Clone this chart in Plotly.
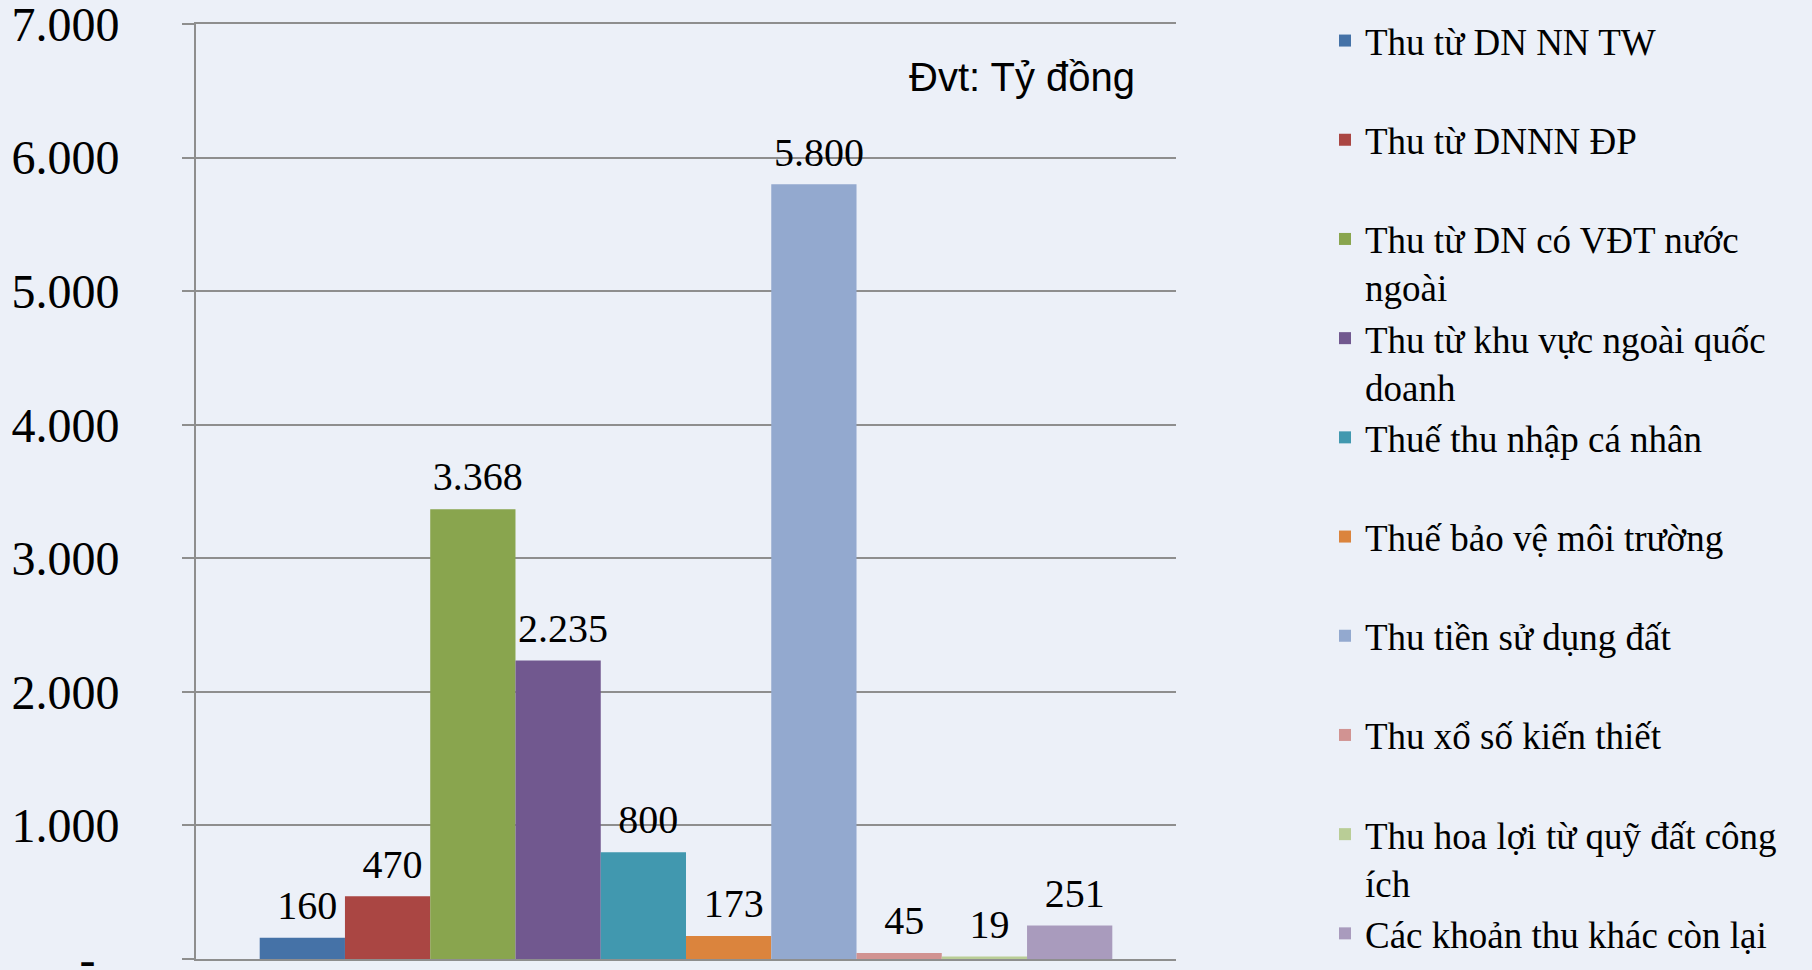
import plotly.graph_objects as go

category = ["Thu ngân sách"]
series_names = [
    "Thu từ DN NN TW",
    "Thu từ DNNN ĐP",
    "Thu từ DN có VĐT nước<br>ngoài",
    "Thu từ khu vực ngoài quốc<br>doanh",
    "Thuế thu nhập cá nhân",
    "Thuế bảo vệ môi trường",
    "Thu tiền sử dụng đất",
    "Thu xổ số kiến thiết",
    "Thu hoa lợi từ quỹ đất công<br>ích",
    "Các khoản thu khác còn lại",
]
series_values = [160, 470, 3368, 2235, 800, 173, 5800, 45, 19, 251]
series_colors = ["#4572A7", "#AA4643", "#89A54E", "#71588F", "#4198AF",
                 "#DB843D", "#93A9CF", "#D19392", "#B9CD96", "#A99BBD"]
tick_values = [0, 1000, 2000, 3000, 4000, 5000, 6000, 7000]
tick_labels = ["-\u00a0\u00a0", "1.000", "2.000", "3.000", "4.000", "5.000", "6.000", "7.000"]
unit_note = "Đvt: Tỷ đồng"

W, H = 1812, 970
ML, MR, MT, MB = 196, 636, 24, 11
BG = "#ECF0F8"
GRID = "#8E8E8E"
SERIF = "Liberation Serif, Times New Roman, serif"

fig = go.Figure()
n = len(series_names)
for i, (name, val, col) in enumerate(zip(series_names, series_values, series_colors)):
    # pad single-line legend entries to two lines so all entries are evenly spaced
    label = name if ("<br>" in name or i == n - 1) else name + "<br>\u00a0"
    fig.add_trace(go.Bar(
        x=category, y=[val], name=label,
        marker=dict(color=col, line=dict(width=0)),
        texttemplate="<span style='font-size:40px'>\u00a0%{y:,}</span><br>\u00a0",
        textposition="outside", constraintext="none",
        textfont=dict(family=SERIF, size=10.5, color="black"),
        cliponaxis=False,
    ))

fig.update_layout(
    width=W, height=H,
    margin=dict(l=ML, r=MR, t=MT, b=MB, autoexpand=False),
    paper_bgcolor=BG, plot_bgcolor=BG,
    barmode="group", bargap=0.13, bargroupgap=0,
    separators=",.",
    showlegend=True,
    legend=dict(
        xref="container", yref="container",
        x=1325 / W, y=1 - 10 / H, xanchor="left", yanchor="top",
        font=dict(family=SERIF, size=37, color="black"),
        valign="top", traceorder="normal", maxheight=H,
        bgcolor="rgba(0,0,0,0)", borderwidth=0,
    ),
    xaxis=dict(showticklabels=False, showgrid=False, zeroline=False,
               showline=True, mirror=True, linecolor=GRID, linewidth=2,
               range=[-0.5, 0.5], ticks=""),
    yaxis=dict(range=[0, 7000], tickvals=tick_values, ticktext=tick_labels,
               showgrid=True, gridcolor=GRID, gridwidth=2,
               zeroline=False, showline=True, linecolor=GRID, linewidth=2,
               ticks="outside", ticklen=12, tickcolor=GRID, tickwidth=2,
               ticklabelstandoff=53, ticklabeloverflow="allow",
               tickfont=dict(family=SERIF, size=48, color="black")),
    annotations=[dict(
        text=unit_note, xref="paper", yref="paper",
        x=(1137 - ML) / (W - ML - MR), y=(959 - 77) / (H - MT - MB),
        xanchor="right", yanchor="middle", showarrow=False,
        font=dict(family="Liberation Sans, Arial, sans-serif", size=40, color="black"),
    )],
)

fig.write_html("out.html", config={"displayModeBar": False},
               post_script="document.body.style.margin='0';")
